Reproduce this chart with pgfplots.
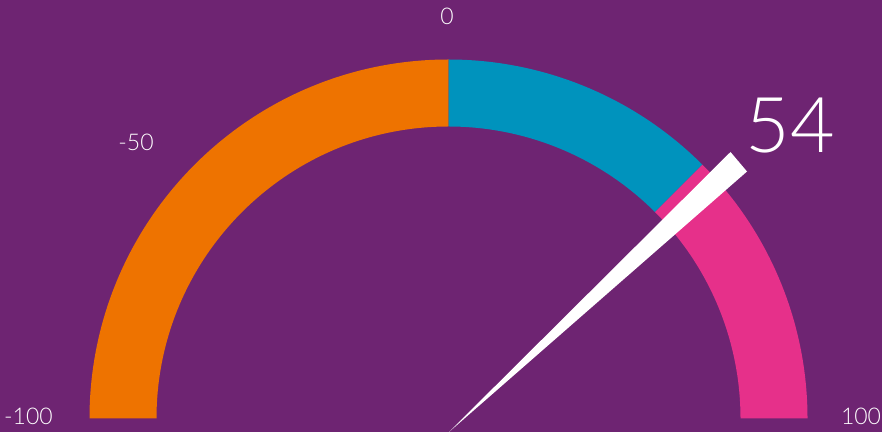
\documentclass[border=0pt]{standalone}
\usepackage{pgfplots}
\pgfplotsset{compat=1.18}
\usepackage{fontspec}
\setmainfont{Lato}[UprightFont=* Light]
\definecolor{bg}{RGB}{110,36,114}
\definecolor{band1}{RGB}{238,115,0}
\definecolor{band2}{RGB}{0,147,189}
\definecolor{band3}{RGB}{230,48,138}
% value -> angle: 90 - 0.9*v ; centre (448.5,13.5), radii 359 / 292 (px), 1px = 0.5bp
\newcommand{\band}[3]{%
  \fill[#3] (axis cs:{448.5+359*cos(90-0.9*(#1))},{13.5+359*sin(90-0.9*(#1))})
    arc[start angle={90-0.9*(#1)}, end angle={90-0.9*(#2)}, radius=179.5bp]
    -- (axis cs:{448.5+292*cos(90-0.9*(#2))},{13.5+292*sin(90-0.9*(#2))})
    arc[start angle={90-0.9*(#2)}, end angle={90-0.9*(#1)}, radius=146bp] -- cycle;}
\begin{document}
\begin{tikzpicture}
\begin{axis}[
  scale only axis, width=441bp, height=216bp,
  xmin=0, xmax=882, ymin=0, ymax=432,
  hide axis, clip=false,
]
\fill[bg] (axis cs:0,0) rectangle (axis cs:882,432);
\band{-100}{0}{band1}
\band{0}{50}{band2}
\band{50}{100}{band3}
% needle (value 54)
\addplot[fill=white, draw=none] coordinates {(449,0) (730.5,280) (747,260.5)} -- cycle;
\node[text=white, font=\fontsize{38.5bp}{38.5bp}\selectfont] at (axis cs:790.5,306) {54};
\node[text=white, font=\fontsize{11.5bp}{11.5bp}\selectfont] at (axis cs:447,416) {0};
\node[text=white, font=\fontsize{11.5bp}{11.5bp}\selectfont] at (axis cs:136,290) {-50};
\node[text=white, font=\fontsize{11.5bp}{11.5bp}\selectfont] at (axis cs:28.5,16) {-100};
\node[text=white, font=\fontsize{11.5bp}{11.5bp}\selectfont] at (axis cs:861,16) {100};
\end{axis}
\pgfresetboundingbox
\path (current axis.south west) rectangle (current axis.north east);
\end{tikzpicture}
\end{document}
